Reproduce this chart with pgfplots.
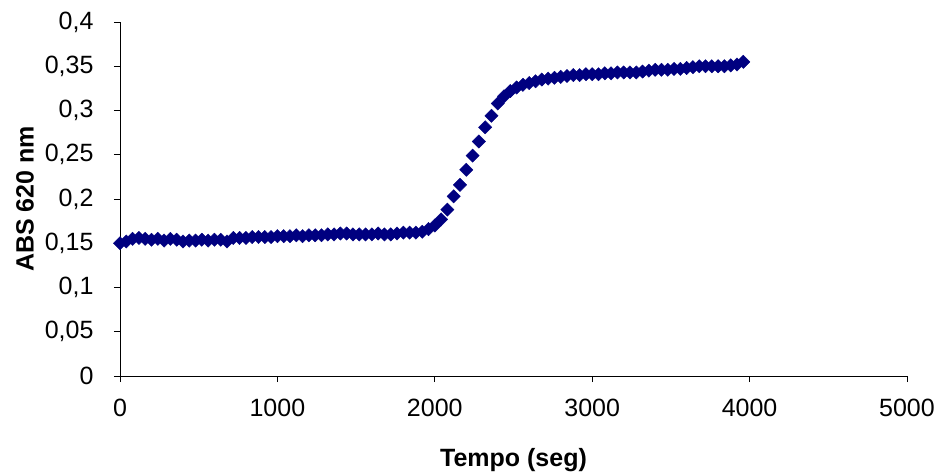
\documentclass[border=0pt]{standalone}
\usepackage{fontspec}
\setmainfont{Liberation Sans}
\usepackage{pgfplots}
\pgfplotsset{compat=1.18}
\usepackage{pgfplotstable}

% Absorbance at 620 nm recorded every 40 s
\pgfplotstableread{
t abs
0 0.150
40 0.152
80 0.155
120 0.156
160 0.155
200 0.154
240 0.155
280 0.153
320 0.155
360 0.154
400 0.152
440 0.153
480 0.153
520 0.154
560 0.153
600 0.154
640 0.154
680 0.152
720 0.156
760 0.156
800 0.156
840 0.157
880 0.157
920 0.157
960 0.157
1000 0.158
1040 0.158
1080 0.158
1120 0.159
1160 0.158
1200 0.159
1240 0.159
1280 0.159
1320 0.160
1360 0.160
1400 0.161
1440 0.161
1480 0.160
1520 0.160
1560 0.160
1600 0.160
1640 0.161
1680 0.160
1720 0.160
1760 0.161
1800 0.162
1840 0.162
1880 0.162
1920 0.163
1960 0.166
2000 0.170
2040 0.177
2080 0.188
2120 0.203
2160 0.216
2200 0.233
2240 0.249
2280 0.265
2320 0.281
2360 0.294
2400 0.308
2440 0.316
2480 0.322
2520 0.326
2560 0.329
2600 0.331
2640 0.333
2680 0.335
2720 0.336
2760 0.337
2800 0.338
2840 0.339
2880 0.340
2920 0.340
2960 0.341
3000 0.341
3040 0.341
3080 0.342
3120 0.342
3160 0.343
3200 0.343
3240 0.343
3280 0.343
3320 0.344
3360 0.345
3400 0.346
3440 0.346
3480 0.346
3520 0.347
3560 0.347
3600 0.348
3640 0.349
3680 0.350
3720 0.350
3760 0.350
3800 0.350
3840 0.350
3880 0.351
3920 0.352
3960 0.355
}\absdata

\definecolor{navy}{RGB}{0,0,128}

\begin{document}
\begin{tikzpicture}
\path[use as bounding box] (-120pt,-99pt) rectangle (818pt,376pt);
\begin{axis}[
  at={(0pt,0pt)}, anchor=south west,
  scale only axis,
  width=787pt, height=354pt,
  xmin=0, xmax=5000, ymin=0, ymax=0.4,
  axis lines=left,
  axis line style={-, black, line width=0.8pt},
  tick align=outside,
  major tick length=6pt,
  tick style={black, line width=0.8pt},
  xtick={0,1000,...,5000},
  ytick={0,0.05,...,0.4},
  /pgf/number format/assume math mode=true,
  xticklabel style={/pgf/number format/1000 sep={}, yshift=-14pt},
  yticklabel style={/pgf/number format/fixed, /pgf/number format/use comma,
    /pgf/number format/precision=2, xshift=-17pt},
  ticklabel style={font=\fontsize{25}{30}\selectfont},
  xlabel={\textbf{Tempo (seg)}},
  ylabel={\textbf{ABS 620 nm}},
  label style={font=\fontsize{25}{30}\selectfont},
  xlabel style={yshift=-24pt},
  ylabel style={yshift=4pt},
  clip=false,
]
\addplot[only marks, mark=square*, mark size=4.7pt,
  mark options={rotate=45, fill=navy, draw=navy}] table[x=t, y=abs] {\absdata};
\end{axis}
\end{tikzpicture}
\end{document}
